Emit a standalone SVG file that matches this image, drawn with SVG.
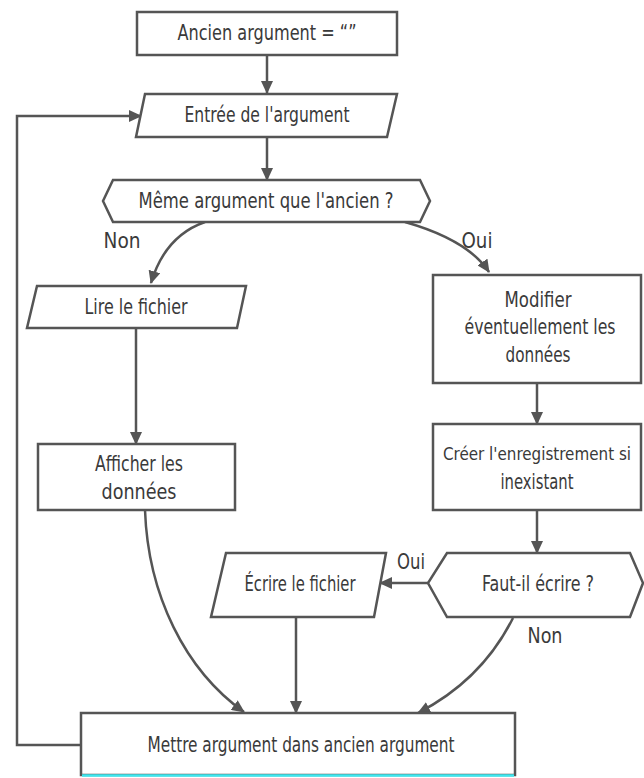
<svg xmlns="http://www.w3.org/2000/svg" width="644" height="778" viewBox="0 0 644 778">
<style>
.s{fill:#fff;stroke:#555;stroke-width:2.5;stroke-linejoin:miter}
.c{fill:none;stroke:#555;stroke-width:2.5}
.t{font-family:"DejaVu Sans Condensed","DejaVu Sans",sans-serif;font-size:20.5px;fill:#3a3a3a;text-anchor:middle}
</style>
<defs>
<marker id="ah" markerUnits="userSpaceOnUse" markerWidth="14" markerHeight="12" refX="12" refY="6" orient="auto" viewBox="0 0 14 12">
<path d="M0,0 L13,6 L0,12 Z" fill="#555"/>
</marker>
</defs>
<rect width="644" height="778" fill="#fff"/>
<g id="connectors">
<path class="c" d="M267,55 V93" marker-end="url(#ah)"/>
<path class="c" d="M267,137 V180" marker-end="url(#ah)"/>
<path class="c" d="M81,745 H17 V116 H141" marker-end="url(#ah)"/>
<path class="c" d="M205,222 Q165,236 151,283" marker-end="url(#ah)"/>
<path class="c" d="M405,222 Q468,240 489,272" marker-end="url(#ah)"/>
<path class="c" d="M136,328 V444" marker-end="url(#ah)"/>
<path class="c" d="M537,383 V424" marker-end="url(#ah)"/>
<path class="c" d="M537,510 V553" marker-end="url(#ah)"/>
<path class="c" d="M428,583 H380" marker-end="url(#ah)"/>
<path class="c" d="M296,617 V713" marker-end="url(#ah)"/>
<path class="c" d="M145,510 C148,595 185,670 244,712" marker-end="url(#ah)"/>
<path class="c" d="M513,618 Q482,680 418,713" marker-end="url(#ah)"/>
<text class="t" x="122" y="248" textLength="37" lengthAdjust="spacingAndGlyphs">Non</text>
<text class="t" x="477" y="248" textLength="31" lengthAdjust="spacingAndGlyphs">Oui</text>
<text class="t" x="411" y="569" textLength="28" lengthAdjust="spacingAndGlyphs">Oui</text>
<text class="t" x="545" y="643" textLength="35" lengthAdjust="spacingAndGlyphs">Non</text>
</g>
<g id="n1">
<rect class="s" x="137" y="12" width="260" height="43"/>
<text class="t" x="267" y="40" textLength="179" lengthAdjust="spacingAndGlyphs">Ancien argument = “”</text>
</g>
<g id="n2">
<polygon class="s" points="145,94 397,94 387,137 136,137"/>
<text class="t" x="267" y="122" textLength="165" lengthAdjust="spacingAndGlyphs">Entrée de l'argument</text>
</g>
<g id="n3">
<polygon class="s" points="113,180 420,180 430,201 420,222 113,222 103,201"/>
<text class="t" x="266" y="208" textLength="255" lengthAdjust="spacingAndGlyphs">Même argument que l'ancien ?</text>
</g>
<g id="n4">
<polygon class="s" points="37,286 246,286 237,328 27,328"/>
<text class="t" x="136" y="314" textLength="103" lengthAdjust="spacingAndGlyphs">Lire le fichier</text>
</g>
<g id="n5">
<rect class="s" x="38" y="444" width="197" height="66"/>
<text class="t" x="139" y="471" textLength="88" lengthAdjust="spacingAndGlyphs">Afficher les</text>
<text class="t" x="139" y="499" textLength="75" lengthAdjust="spacingAndGlyphs">données</text>
</g>
<g id="n6">
<rect class="s" x="433" y="275" width="208" height="108"/>
<text class="t" x="538" y="307" textLength="67" lengthAdjust="spacingAndGlyphs">Modifier</text>
<text class="t" x="540" y="334" textLength="151" lengthAdjust="spacingAndGlyphs">éventuellement les</text>
<text class="t" x="538" y="362" textLength="65" lengthAdjust="spacingAndGlyphs">données</text>
</g>
<g id="n7">
<rect class="s" x="433" y="424" width="208" height="86"/>
<text class="t" x="537" y="460" style="font-size:18px" textLength="188" lengthAdjust="spacingAndGlyphs">Créer l'enregistrement si</text>
<text class="t" x="537" y="489" textLength="73" lengthAdjust="spacingAndGlyphs">inexistant</text>
</g>
<g id="n8">
<polygon class="s" points="447,553 630,553 643,583 630,617 447,617 428,583"/>
<text class="t" x="538" y="591" textLength="112" lengthAdjust="spacingAndGlyphs">Faut-il écrire ?</text>
</g>
<g id="n9">
<polygon class="s" points="226,553 386,553 374,617 211,617"/>
<text class="t" x="300" y="591" textLength="111" lengthAdjust="spacingAndGlyphs">Écrire le fichier</text>
</g>
<g id="n10">
<rect class="s" x="81" y="713" width="434" height="62"/>
<line x1="82" y1="775.5" x2="514" y2="775.5" stroke="#3ee8f0" stroke-width="2.5"/>
<text class="t" x="301" y="752" textLength="307" lengthAdjust="spacingAndGlyphs">Mettre argument dans ancien argument</text>
</g>
</svg>
